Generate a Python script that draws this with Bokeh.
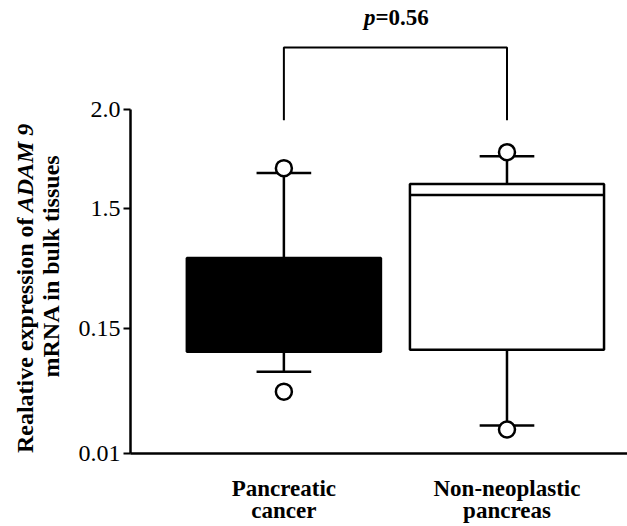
import math
from bokeh.plotting import figure
from bokeh.layouts import row
from bokeh.models import Range1d, FixedTicker, Label
from bokeh.core.properties import value
from bokeh.embed import file_html
from bokeh.resources import INLINE

# ---- data (y values expressed in axis-position units; tick labels below) ----
groups = ["Pancreatic\ncancer", "Non-neoplastic\npancreas"]
group_x = [1, 2]
q1 = [0.816, 0.832]
q3 = [1.568, 2.160]
median = [1.200, 2.072]
whisk_lo = [0.656, 0.224]
whisk_hi = [2.248, 2.384]
outlier_x = [1, 1, 2, 2]
outlier_y = [2.288, 0.496, 2.416, 0.192]
box_fill = ["black", "white"]

y_tick_pos = [0.0, 1.0, 1.968, 2.76]
y_tick_labels = ["0.01", "0.15", "1.5", "2.0"]

p_value_text = "=0.56"
bracket_top = 3.256
bracket_leg_bottom = 2.672

title_line1a = "Realative expression of"
title_line1b = "ADAM 9"
title_line2 = "mRNA in bulk tissues"

FONT = "Liberation Serif"

W, H = 627, 526
TW = 75                  # width of the y-title strip
MW = W - TW              # main figure width
LEFT, BOTTOM = 128 - TW, 72
PX_PER_X = 224.0
PX_PER_Y = 125.0
X0_PIX = 282 - TW
frame_h = H - BOTTOM

x_start = 1 - (X0_PIX - LEFT) / PX_PER_X
x_end = x_start + (MW - LEFT) / PX_PER_X
y_end = frame_h / PX_PER_Y

# ---------- y-axis title strip (coordinates: pixels from top) ----------
t = figure(width=TW, height=H, output_backend="svg", toolbar_location=None,
           x_axis_type=None, y_axis_type=None,
           x_range=Range1d(0, TW), y_range=Range1d(H, 0),
           min_border=0)
t.grid.visible = False
t.outline_line_color = None
t.background_fill_color = "white"
t.border_fill_color = "white"

SHIFT = 38
junction = 208 + SHIFT
t.text(x=[24], y=[junction + 6], text=[title_line1a], angle=math.pi / 2,
       text_align="right", text_baseline="alphabetic", text_font=value(FONT),
       text_font_style="bold", text_font_size="24px", text_color="black")
t.text(x=[24], y=[junction], text=[title_line1b], angle=math.pi / 2,
       text_align="left", text_baseline="alphabetic", text_font=value(FONT),
       text_font_style="bold italic", text_font_size="24px", text_color="black")
t.text(x=[50], y=[270 + SHIFT], text=[title_line2], angle=math.pi / 2,
       text_align="center", text_baseline="alphabetic", text_font=value(FONT),
       text_font_style="bold", text_font_size="24px", text_color="black")

# ---------- main plot ----------
p = figure(width=MW, height=H, output_backend="svg", toolbar_location=None,
           x_range=Range1d(x_start, x_end), y_range=Range1d(0, y_end),
           min_border_left=LEFT, min_border_right=0, min_border_top=0,
           min_border_bottom=BOTTOM)
p.outline_line_color = None
p.xgrid.visible = False
p.ygrid.visible = False
p.background_fill_color = "white"
p.border_fill_color = "white"

def px_y(py):
    return (frame_h - py) / PX_PER_Y

BOX_W = 0.87
CAP_W = 0.245
LW = 2.5

# whiskers
p.segment(x0=group_x, y0=q3, x1=group_x, y1=whisk_hi, line_color="black", line_width=LW)
p.segment(x0=group_x, y0=whisk_lo, x1=group_x, y1=q1, line_color="black", line_width=LW)
# caps
p.segment(x0=[g - CAP_W / 2 for g in group_x], y0=whisk_hi,
          x1=[g + CAP_W / 2 for g in group_x], y1=whisk_hi, line_color="black", line_width=LW)
p.segment(x0=[g - CAP_W / 2 for g in group_x], y0=whisk_lo,
          x1=[g + CAP_W / 2 for g in group_x], y1=whisk_lo, line_color="black", line_width=LW)
# boxes
p.quad(left=[g - BOX_W / 2 for g in group_x], right=[g + BOX_W / 2 for g in group_x],
       bottom=q1, top=q3, fill_color=box_fill, line_color="black", line_width=LW)
# medians
p.segment(x0=[g - BOX_W / 2 for g in group_x], y0=median,
          x1=[g + BOX_W / 2 for g in group_x], y1=median, line_color="black", line_width=LW)
# outliers
p.scatter(x=outlier_x, y=outlier_y, size=16, marker="circle", fill_color="white",
          line_color="black", line_width=LW)

# significance bracket
p.line(x=[group_x[0], group_x[0], group_x[1], group_x[1]],
       y=[bracket_leg_bottom, bracket_top, bracket_top, bracket_leg_bottom],
       line_color="black", line_width=2)

mid = (group_x[0] + group_x[1]) / 2
p.add_layout(Label(x=mid, y=px_y(30), x_offset=-20, text="p", text_align="right",
                   text_font=FONT, text_font_style="bold italic", text_font_size="23px",
                   text_color="black"))
p.add_layout(Label(x=mid, y=px_y(30), x_offset=-20, text=p_value_text, text_align="left",
                   text_font=FONT, text_font_style="bold", text_font_size="23px",
                   text_color="black"))

# y axis
ya = p.yaxis[0]
ya.ticker = FixedTicker(ticks=y_tick_pos)
ya.major_label_overrides = {tp: l for tp, l in zip(y_tick_pos, y_tick_labels)}
ya.bounds = (y_tick_pos[0], y_tick_pos[-1])
ya.axis_line_color = "black"
ya.axis_line_width = LW
ya.major_tick_line_color = "black"
ya.major_tick_line_width = 2
ya.major_tick_out = 7
ya.major_tick_in = 0
ya.minor_tick_line_color = None
ya.major_label_standoff = 3
ya.major_label_text_font = FONT
ya.major_label_text_font_size = "24px"
ya.major_label_text_color = "black"

# x axis
xa = p.xaxis[0]
xa.ticker = FixedTicker(ticks=group_x)
xa.major_label_overrides = {g: n for g, n in zip(group_x, groups)}
xa.axis_line_color = "black"
xa.axis_line_width = LW
xa.major_tick_line_color = None
xa.minor_tick_line_color = None
xa.major_tick_out = 0
xa.major_tick_in = 0
xa.major_label_standoff = 22
xa.major_label_text_font = FONT
xa.major_label_text_font_style = "bold"
xa.major_label_text_font_size = "23px"
xa.major_label_text_color = "black"
xa.major_label_text_line_height = 0.9

layout = row(t, p, spacing=0)
open("out.html", "w").write(file_html(layout, INLINE))
